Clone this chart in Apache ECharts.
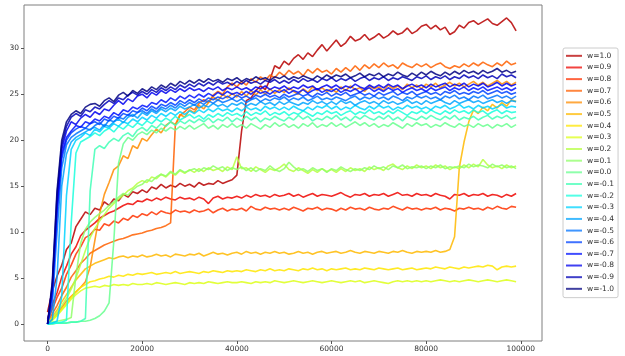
<!DOCTYPE html>
<html>
<head>
<meta charset="utf-8">
<script src="https://cdn.jsdelivr.net/npm/echarts@6/dist/echarts.min.js"></script>
<style>
  html, body { margin: 0; padding: 0; background: #fff; }
  #chart { width: 625px; height: 356px; }
</style>
</head>
<body>
<div id="chart"></div>
<script>
// one sample every 1000 steps, 0 .. 99000
const STEP = 1000;

const xTicks = [0, 20000, 40000, 60000, 80000, 100000];
const yTicks = [0, 5, 10, 15, 20, 25, 30];

const wP10 = [
  1.3, 3.6, 5.2, 6.4, 8.1, 8.8, 10.6, 11.4, 12.2, 11.9,
  12.6, 12.4, 13.3, 12.9, 13.6, 13.4, 14.1, 13.8, 14.4, 14.2,
  14.6, 14.3, 14.9, 14.7, 15.2, 14.8, 15.1, 14.9, 15.3, 15.0,
  15.2, 14.9, 15.4, 15.1, 15.3, 15.2, 15.6, 15.3, 15.5, 15.7,
  16.2, 21.0, 24.3, 24.6, 25.4, 25.9, 25.5, 26.6, 28.1, 27.8,
  28.6, 28.2, 28.9, 29.3, 28.8, 29.5, 29.1, 29.8, 30.4, 29.7,
  30.3, 30.9, 30.2, 30.6, 31.3, 30.8, 31.0, 31.5, 30.9, 31.2,
  31.6, 31.1, 31.4, 31.9, 31.5, 31.7, 32.2, 31.6, 31.9, 32.4,
  32.6, 32.1, 32.5, 32.0, 32.3, 31.5, 31.8, 32.5, 32.2, 32.8,
  33.0, 32.6, 32.9, 33.2, 32.7, 32.5, 32.9, 33.3, 32.8, 31.9
];
const wP09 = [
  0.6, 2.1, 3.4, 5.1, 6.3, 7.6, 8.4, 9.6, 10.2, 10.6,
  11.0, 11.5, 11.8, 12.1, 12.3, 12.6, 12.9, 13.1, 13.0, 13.4,
  13.3, 13.6, 13.4, 13.7, 13.5, 13.8, 13.6, 13.5, 13.8, 13.6,
  13.7, 13.5, 13.8, 13.6, 13.1, 13.7, 13.9, 13.6, 13.8, 13.7,
  13.9, 13.7, 14.0, 13.8, 14.1, 13.9, 14.0, 13.8, 14.1, 13.9,
  14.0, 14.2, 13.9, 14.1, 13.8, 14.0, 14.2, 13.9, 14.1, 14.0,
  13.9, 14.1, 14.3, 14.0, 13.8, 14.1, 14.0, 14.2, 13.9, 14.1,
  14.0, 14.2, 13.9, 14.1, 14.3, 14.0, 14.1, 13.9, 14.2, 14.0,
  14.1, 13.9, 14.2, 14.0, 13.9, 13.6, 14.1, 14.0, 14.2, 13.9,
  14.1, 14.0, 14.2, 13.9, 14.1, 14.0, 13.8, 14.1, 13.9, 14.2
];
const wP08 = [
  0.3, 1.6, 2.9, 3.9, 5.4, 6.4, 7.6, 8.4, 9.4, 9.7,
  10.3, 10.2, 10.9, 10.7, 11.2, 11.0, 11.5, 11.3, 11.8, 11.6,
  12.0, 11.8, 12.2, 11.9, 12.3, 12.1, 12.0, 12.4, 12.2, 12.3,
  12.1, 12.4, 12.2, 12.3, 12.5, 12.1, 12.4, 12.6, 12.3, 12.5,
  12.4, 12.6, 12.3, 12.8, 12.5, 12.4, 12.7, 12.5, 12.6, 12.4,
  12.6, 12.4, 12.7, 12.5, 12.3, 12.6, 12.5, 12.7, 12.4, 12.6,
  12.5, 12.3, 12.6, 12.4, 12.7, 12.5, 12.6, 12.4, 12.7, 12.5,
  12.4, 12.6, 12.5, 12.8, 12.6, 12.4, 12.7, 12.5, 12.6, 12.4,
  12.6, 12.5, 12.7, 12.4, 12.6, 12.5, 12.3, 12.6, 12.5, 12.7,
  12.5, 12.6, 12.4, 12.7, 12.5, 12.8, 12.6, 12.5, 12.8, 12.7
];
const wP07 = [
  0.2, 1.1, 2.0, 3.1, 4.0, 5.1, 5.8, 6.6, 7.1, 7.7,
  8.0, 8.3, 8.6, 8.8, 9.0, 9.2, 9.3, 9.5, 9.7, 9.8,
  9.9, 10.1, 10.2, 10.4, 10.5, 10.7, 11.0, 21.6, 22.7, 23.1,
  23.6, 23.3, 24.0, 24.4, 24.1, 24.9, 25.3, 25.0, 25.8, 26.2,
  25.8, 26.4, 26.0, 26.7, 26.3, 26.9, 26.5, 27.1, 26.8, 27.4,
  27.0, 27.6, 27.2, 27.5, 27.0, 27.7, 27.3, 27.8, 27.4, 27.6,
  27.2, 27.8, 27.4, 27.9, 27.5, 28.1, 27.6, 28.2, 27.8, 28.3,
  27.9, 28.4, 28.0, 28.2, 27.8, 28.4, 28.1, 27.9, 28.3, 28.0,
  28.3, 27.9, 28.2, 28.4, 28.0, 27.8, 28.1, 27.9, 28.3, 28.0,
  28.4, 28.1, 28.5, 28.2, 28.0, 28.4, 28.1, 28.6, 28.2, 28.4
];
const wP06 = [
  0.1, 0.5, 1.1, 1.8, 2.5, 3.0, 3.5, 4.0, 4.6, 6.2,
  9.1, 12.0, 14.1, 15.4, 16.8, 17.2, 18.3, 18.0, 19.4, 19.1,
  20.2, 19.9, 20.6, 21.2, 20.8, 21.6, 22.0, 21.7, 22.8, 22.5,
  23.3, 23.0, 23.8, 23.4, 24.1, 24.7, 24.3, 25.0, 24.6, 25.1,
  24.7, 25.3, 24.8, 25.4, 24.9, 25.5, 25.0, 25.6, 25.1, 25.5,
  25.2, 25.7, 25.3, 25.0, 25.6, 25.2, 25.8, 25.4, 25.7, 25.3,
  25.6, 25.2, 25.8, 25.4, 25.9, 25.5, 25.7, 25.3, 25.9, 25.6,
  25.8, 25.4, 26.0, 25.6, 25.9, 25.5, 26.1, 25.7, 26.0, 25.6,
  26.1, 25.8, 26.2, 25.7, 26.0, 26.3, 25.9, 26.2, 25.8, 26.1,
  26.4, 26.0, 26.3, 25.9, 26.2, 26.5, 26.1, 26.4, 26.0, 26.3
];
const wP05 = [
  0.1, 0.8, 1.5, 2.4, 3.2, 4.0, 4.8, 5.4, 6.0, 6.3,
  6.6, 6.8, 7.0, 7.2, 7.1, 7.3, 7.4, 7.2, 7.4, 7.3,
  7.5, 7.3, 7.4, 7.6, 7.4, 7.5, 7.3, 7.6, 7.5, 7.4,
  7.6, 7.5, 7.7, 7.4, 7.6, 7.8, 7.6, 7.7, 7.5, 7.7,
  7.8, 7.6, 7.9, 7.7, 7.8, 7.6, 7.8, 7.7, 7.9, 7.7,
  7.8, 7.6, 7.7, 7.9, 7.7, 7.8, 7.6, 7.8, 7.9, 7.7,
  7.8, 7.9, 7.7, 7.8, 8.0, 7.8, 7.7, 7.9, 7.8, 7.7,
  7.9, 7.8, 7.7, 7.9, 7.8, 8.0, 7.8, 7.7, 7.9, 7.8,
  7.9, 7.8, 8.0, 7.8, 7.9, 8.1, 9.5, 17.0, 19.8, 22.0,
  23.3, 22.9, 23.6, 23.2, 23.9, 23.5, 24.1, 23.7, 24.4, 24.2
];
const wP04 = [
  0.1, 0.5, 1.0, 1.6, 2.2, 2.9, 3.5, 4.0, 4.3, 4.6,
  4.7, 4.9, 5.0, 5.2, 5.1, 5.3, 5.2, 5.4, 5.3, 5.5,
  5.4, 5.5, 5.6, 5.4, 5.5, 5.6, 5.5, 5.7, 5.5, 5.6,
  5.7, 5.6, 5.5, 5.7, 5.6, 5.8, 5.7, 5.6, 5.8, 5.7,
  5.8, 5.7, 5.9, 5.8, 5.7, 5.9, 5.8, 6.0, 5.8, 5.9,
  5.8, 6.0, 5.9, 5.8, 6.0, 5.9, 6.1, 5.9, 6.0, 5.8,
  6.0, 5.9, 6.0, 6.1, 5.9, 6.0, 5.9, 6.1, 6.0, 5.9,
  6.1, 6.0, 5.9, 6.0, 6.1, 5.9, 6.0, 6.1, 5.9, 6.0,
  6.1, 6.0, 6.2, 6.1, 6.0, 6.2, 6.1, 6.0, 6.2, 6.1,
  6.2, 6.3, 6.2, 6.4, 6.3, 5.9, 6.2, 6.3, 6.2, 6.3
];
const wP03 = [
  0.1, 0.4, 0.9, 1.5, 2.1, 2.7, 3.2, 3.6, 3.9, 4.0,
  4.1, 4.0, 4.2, 4.1, 4.3, 4.2, 4.3, 4.2, 4.4, 4.3,
  4.3, 4.4, 4.3, 4.5, 4.4, 4.3, 4.4, 4.5, 4.4, 4.3,
  4.5, 4.4, 4.5, 4.4, 4.6, 4.5, 4.4, 4.5, 4.6, 4.5,
  4.5, 4.6, 4.5, 4.4, 4.6, 4.5, 4.6, 4.5, 4.7, 4.6,
  4.5, 4.6, 4.7, 4.6, 4.5, 4.6, 4.7, 4.6, 4.5, 4.6,
  4.7, 4.6, 4.5, 4.6, 4.7, 4.6, 4.7, 4.5, 4.6, 4.7,
  4.6, 4.5, 4.4, 4.6, 4.7, 4.6, 4.7, 4.6, 4.7, 4.6,
  4.7, 4.6, 4.7, 4.8, 4.7, 4.6, 4.7, 4.6, 4.7, 4.8,
  4.7, 4.6, 4.7, 4.8, 4.7, 4.6, 4.7, 4.8, 4.7, 4.6
];
const wP02 = [
  0.1, 0.6, 1.3, 2.0, 2.8, 3.8, 5.0, 6.5, 8.0, 9.4,
  10.4, 11.2, 11.9, 12.6, 13.1, 13.6, 14.0, 14.5, 14.8, 15.3,
  15.6, 15.4, 16.0, 15.8, 16.3, 16.0, 16.5, 16.2, 16.7, 16.4,
  16.8, 16.5, 16.9, 16.6, 17.0, 16.7, 16.9, 16.6, 17.1, 16.8,
  18.2, 16.9, 17.0, 16.6, 17.1, 16.8, 16.5, 16.9, 16.7, 17.0,
  17.4, 16.8, 16.6, 17.0, 16.7, 16.4, 16.8, 16.5, 16.9, 16.6,
  16.8, 16.5, 16.9, 16.6, 17.0, 16.7, 16.9, 16.6, 17.1, 16.8,
  17.0, 16.7, 17.2, 17.4, 17.0, 16.8, 17.2, 16.9, 17.3, 17.0,
  17.2, 16.9, 17.3, 17.0, 17.2, 16.8, 17.1, 16.9, 17.3, 17.0,
  17.4, 17.1, 17.9, 17.3, 17.0, 17.2, 16.9, 17.3, 17.0, 17.2
];
const wP01 = [
  0.1, 0.2, 0.3, 0.4, 0.5, 0.7, 5.2, 8.8, 10.3, 11.1,
  11.6, 12.0, 12.4, 12.9, 13.3, 13.8, 14.2, 14.0, 14.6, 15.0,
  15.2, 15.7, 15.5, 16.0, 16.3, 16.1, 16.6, 16.3, 16.8, 16.5,
  16.7, 16.9, 16.6, 17.0, 16.8, 17.2, 16.9, 17.1, 16.7, 17.0,
  16.8, 17.1, 16.7, 17.0, 16.6, 16.9, 16.7, 17.2, 16.8, 16.6,
  16.9, 17.6, 17.1, 16.7, 16.9, 16.6, 17.0, 16.7, 16.9, 16.5,
  16.9, 16.7, 17.1, 16.8, 16.6, 16.9, 16.7, 17.0, 16.8, 17.2,
  16.9, 17.1, 16.8, 17.2, 17.0, 17.3, 16.9, 17.1, 17.0, 17.2,
  16.9, 17.2, 17.0, 17.3, 16.9, 17.1, 17.0, 17.2, 17.0, 17.4,
  17.1, 17.3, 17.2, 17.0, 17.4, 17.1, 17.3, 17.0, 17.2, 16.9
];
const wP00 = [
  0.0, 0.0, 0.1, 0.1, 0.1, 0.2, 0.2, 0.3, 0.3, 0.4,
  0.6, 0.9, 1.4, 2.3, 9.0, 17.5, 19.6, 20.3, 20.0, 20.6,
  20.9, 20.6, 21.1, 20.8, 21.3, 21.0, 21.4, 21.1, 21.5, 21.2,
  21.6, 21.2, 21.5, 21.8, 21.3, 21.6, 21.2, 21.7, 21.4, 21.8,
  21.4, 21.7, 21.3, 21.8, 21.5, 21.2, 21.7, 21.4, 21.9, 21.5,
  21.8, 21.4, 21.7, 21.3, 21.8, 21.5, 21.9, 21.4, 21.7, 21.5,
  21.9, 21.5, 21.8, 21.4, 21.7, 22.0, 21.6, 21.9, 21.5, 21.8,
  21.4, 21.7, 21.5, 21.9, 21.6, 21.3, 21.8, 21.5, 21.9, 21.6,
  21.8, 21.4, 21.7, 21.5, 21.9, 21.6, 21.4, 21.8, 21.5, 21.7,
  21.4, 21.8, 21.5, 21.7, 21.3, 21.7, 21.5, 21.8, 21.4, 21.7
];
const wM01 = [
  0.0, 0.0, 0.1, 0.1, 0.1, 0.2, 0.2, 0.3, 0.6, 14.5,
  19.0, 19.4, 19.1, 19.8, 20.2, 19.9, 20.5, 20.8, 20.4, 21.1,
  21.4, 21.0, 21.6, 21.3, 21.8, 21.5, 22.0, 21.6, 22.1, 21.8,
  22.2, 21.9, 22.3, 22.0, 22.4, 21.9, 22.3, 22.1, 22.5, 22.0,
  22.4, 22.1, 22.6, 22.2, 22.5, 22.0, 22.4, 22.2, 22.6, 22.3,
  22.1, 22.5, 22.2, 22.7, 22.3, 22.6, 22.1, 22.4, 22.2, 22.6,
  22.3, 22.7, 22.2, 22.5, 22.1, 22.6, 22.3, 22.7, 22.4, 22.2,
  22.6, 22.3, 22.7, 22.2, 22.5, 22.1, 22.6, 22.4, 22.2, 22.6,
  22.3, 22.7, 22.4, 22.2, 22.6, 22.3, 22.7, 22.2, 22.5, 22.3,
  22.6, 22.2, 22.5, 22.7, 22.3, 22.6, 22.4, 22.7, 22.3, 22.5
];
const wM02 = [
  0.0, 0.1, 0.1, 0.2, 0.4, 11.0, 18.6, 19.8, 20.1, 20.4,
  20.8, 20.5, 21.0, 21.3, 20.9, 21.5, 21.2, 21.7, 21.4, 21.9,
  21.6, 22.1, 21.8, 22.3, 22.0, 22.4, 22.1, 22.6, 22.2, 22.5,
  22.8, 22.4, 22.7, 22.3, 22.8, 22.5, 22.9, 22.6, 23.0, 22.7,
  22.9, 22.6, 23.1, 22.7, 23.0, 22.8, 23.2, 22.7, 23.0, 22.8,
  23.1, 22.7, 23.0, 22.8, 23.2, 22.9, 22.6, 23.0, 22.8, 23.2,
  22.9, 23.1, 22.7, 23.0, 23.2, 22.8, 23.1, 22.9, 23.3, 22.9,
  23.1, 22.8, 23.2, 22.9, 23.3, 23.0, 22.7, 23.1, 22.9, 23.2,
  22.9, 23.3, 23.0, 22.8, 23.2, 22.9, 23.3, 23.0, 23.2, 22.9,
  23.3, 23.0, 23.2, 22.8, 23.1, 23.3, 22.9, 23.2, 23.0, 23.1
];
const wM03 = [
  0.0, 0.1, 0.3, 3.0, 14.0, 19.0, 20.0, 20.3, 20.8, 20.5,
  21.2, 20.9, 21.5, 21.3, 21.8, 21.5, 22.0, 21.8, 22.3, 22.0,
  22.5, 22.2, 22.7, 22.4, 22.9, 22.6, 23.0, 22.7, 23.1, 22.8,
  23.2, 22.9, 23.3, 23.0, 23.4, 23.1, 23.5, 23.2, 23.4, 23.1,
  23.5, 23.2, 23.6, 23.3, 23.5, 23.2, 23.7, 23.4, 23.6, 23.3,
  23.6, 23.3, 23.7, 23.4, 23.2, 23.6, 23.3, 23.7, 23.5, 23.8,
  23.4, 23.7, 23.3, 23.6, 23.4, 23.8, 23.5, 23.3, 23.7, 23.4,
  23.8, 23.5, 23.7, 23.3, 23.6, 23.4, 23.8, 23.5, 23.7, 23.4,
  23.6, 23.3, 23.7, 23.5, 23.8, 23.4, 23.6, 23.9, 23.5, 23.7,
  23.4, 23.8, 23.5, 23.7, 23.4, 23.6, 23.9, 23.5, 23.7, 23.6
];
const wM04 = [
  0.0, 0.5, 5.0, 15.0, 18.5, 19.8, 20.3, 20.6, 20.9, 21.2,
  21.4, 21.1, 21.7, 21.5, 22.0, 22.3, 21.9, 22.5, 22.8, 22.4,
  23.0, 22.7, 23.2, 22.9, 23.4, 23.1, 23.5, 23.2, 23.7, 23.4,
  23.6, 23.9, 23.5, 23.8, 23.6, 24.0, 23.7, 23.9, 23.6, 24.0,
  23.8, 24.1, 23.7, 24.0, 23.8, 24.2, 23.9, 24.1, 23.8, 24.2,
  23.9, 24.2, 24.0, 23.8, 24.1, 23.9, 24.3, 24.0, 24.2, 23.9,
  24.2, 23.9, 24.3, 24.0, 24.2, 23.8, 24.1, 24.3, 24.0, 24.2,
  23.9, 24.3, 24.0, 24.2, 23.9, 24.1, 24.4, 24.0, 24.2, 23.9,
  24.3, 24.0, 24.2, 24.4, 24.1, 23.9, 24.3, 24.0, 24.2, 24.4,
  24.1, 24.3, 24.0, 24.2, 24.4, 24.1, 24.3, 24.0, 24.3, 24.2
];
const wM05 = [
  0.0, 2.0, 10.0, 17.0, 19.5, 20.3, 20.7, 21.0, 21.3, 21.1,
  21.6, 21.9, 21.5, 22.2, 22.0, 22.5, 22.3, 22.8, 22.6, 23.0,
  23.2, 22.9, 23.4, 23.1, 23.6, 23.4, 23.8, 23.5, 24.0, 23.7,
  24.1, 23.8, 24.2, 23.9, 24.3, 24.0, 24.4, 24.1, 24.3, 24.5,
  24.2, 24.5, 24.1, 24.4, 24.6, 24.2, 24.5, 24.3, 24.6, 24.4,
  24.7, 24.3, 24.6, 24.4, 24.7, 24.3, 24.5, 24.8, 24.4, 24.6,
  24.4, 24.7, 24.5, 24.3, 24.6, 24.8, 24.4, 24.7, 24.5, 24.8,
  24.5, 24.7, 24.4, 24.8, 24.6, 24.3, 24.7, 24.5, 24.8, 24.6,
  24.8, 24.5, 24.7, 24.4, 24.8, 24.6, 24.9, 24.5, 24.7, 24.4,
  24.8, 24.6, 24.9, 24.5, 24.7, 24.9, 24.6, 24.8, 24.5, 24.8
];
const wM06 = [
  0.0, 3.0, 12.0, 18.0, 20.0, 20.8, 21.2, 21.5, 21.3, 21.8,
  22.0, 21.7, 22.3, 22.1, 22.6, 22.4, 22.9, 22.7, 23.2, 23.0,
  23.5, 23.2, 23.7, 23.4, 23.9, 23.7, 24.1, 23.8, 24.3, 24.0,
  24.4, 24.1, 24.5, 24.2, 24.6, 24.4, 24.7, 24.5, 24.8, 24.5,
  24.9, 24.6, 24.8, 24.5, 24.9, 24.7, 25.0, 24.7, 24.9, 24.6,
  25.0, 24.7, 24.9, 25.1, 24.8, 25.0, 24.7, 25.1, 24.9, 25.2,
  24.8, 25.1, 24.9, 25.2, 24.8, 25.0, 25.2, 24.9, 25.1, 24.8,
  25.2, 24.9, 25.1, 25.3, 24.9, 25.2, 25.0, 25.3, 24.9, 25.1,
  25.3, 25.0, 25.2, 24.9, 25.3, 25.1, 25.4, 25.0, 25.2, 25.0,
  25.3, 25.1, 25.4, 25.0, 25.2, 25.4, 25.1, 25.3, 25.0, 25.2
];
const wM07 = [
  0.0, 3.5, 12.5, 18.5, 20.3, 21.0, 21.6, 21.4, 22.0, 21.8,
  22.3, 22.1, 22.6, 22.4, 23.0, 22.7, 23.3, 23.1, 23.6, 23.4,
  23.8, 23.6, 24.1, 23.9, 24.4, 24.1, 24.6, 24.3, 24.8, 24.5,
  24.9, 24.6, 25.0, 24.7, 25.1, 24.8, 25.2, 24.9, 25.3, 25.0,
  25.2, 24.9, 25.3, 25.0, 25.4, 25.1, 25.3, 25.0, 25.4, 25.2,
  25.5, 25.1, 25.4, 25.2, 25.5, 25.1, 25.4, 25.6, 25.2, 25.5,
  25.3, 25.6, 25.2, 25.5, 25.3, 25.6, 25.2, 25.5, 25.7, 25.3,
  25.6, 25.3, 25.7, 25.4, 25.6, 25.2, 25.5, 25.7, 25.4, 25.6,
  25.3, 25.7, 25.4, 25.6, 25.8, 25.4, 25.7, 25.5, 25.8, 25.4,
  25.7, 25.5, 25.8, 25.4, 25.6, 25.8, 25.5, 25.7, 25.4, 25.7
];
const wM08 = [
  0.0, 4.0, 13.0, 19.0, 21.0, 22.0, 21.7, 22.4, 22.8, 22.5,
  23.1, 22.8, 23.4, 23.2, 23.8, 24.3, 23.9, 24.5, 24.2, 24.8,
  25.0, 24.6, 25.2, 24.9, 25.4, 25.1, 25.5, 25.2, 25.6, 25.3,
  25.7, 25.4, 25.6, 25.3, 25.7, 25.5, 25.8, 25.4, 25.7, 25.5,
  25.8, 25.5, 25.7, 25.4, 25.8, 25.6, 25.9, 25.5, 25.8, 25.6,
  25.9, 25.5, 25.8, 25.6, 26.0, 25.7, 25.9, 25.5, 25.8, 26.0,
  25.7, 26.0, 25.6, 25.9, 25.7, 26.1, 25.8, 25.6, 26.0, 25.7,
  26.0, 25.7, 26.1, 25.8, 26.0, 25.6, 25.9, 26.1, 25.8, 26.0,
  25.7, 26.1, 25.8, 26.0, 26.2, 25.8, 26.1, 25.9, 26.2, 25.8,
  26.1, 25.9, 26.2, 25.8, 26.0, 26.3, 25.9, 26.2, 25.9, 26.1
];
const wM09 = [
  0.0, 4.2, 14.0, 19.5, 21.5, 22.5, 22.9, 22.6, 23.3, 23.1,
  23.6, 23.4, 23.9, 24.3, 24.0, 24.6, 24.4, 24.9, 25.2, 24.9,
  25.3, 25.0, 25.5, 25.2, 25.7, 25.4, 25.8, 25.5, 26.0, 25.7,
  26.1, 25.8, 26.2, 25.9, 26.3, 26.0, 26.4, 26.1, 26.3, 26.0,
  26.4, 26.1, 26.5, 26.2, 26.4, 26.1, 26.5, 26.3, 26.6, 26.2,
  26.5, 26.2, 26.6, 26.3, 26.7, 26.4, 26.6, 26.3, 26.7, 26.5,
  26.8, 26.4, 26.7, 26.5, 26.8, 26.4, 26.7, 26.9, 26.5, 26.8,
  26.6, 26.9, 26.5, 26.8, 26.6, 26.9, 26.7, 26.5, 26.9, 26.7,
  27.0, 26.6, 26.9, 26.7, 27.0, 26.6, 26.9, 26.7, 27.1, 26.8,
  27.0, 26.7, 27.1, 26.8, 27.0, 26.7, 27.2, 26.9, 27.1, 26.8
];
const wM10 = [
  0.0, 4.6, 14.5, 20.0, 22.0, 22.8, 23.2, 22.9, 23.6, 23.9,
  24.0, 23.7, 24.3, 24.6, 24.2, 24.9, 25.2, 24.8, 25.4, 25.1,
  25.6, 25.3, 25.8, 25.5, 26.0, 25.7, 26.2, 25.9, 26.4, 26.1,
  26.5, 26.2, 26.6, 26.3, 26.7, 26.4, 26.6, 26.3, 26.7, 26.5,
  26.8, 26.4, 26.7, 26.5, 26.9, 26.6, 26.8, 26.5, 26.9, 26.7,
  27.0, 26.6, 26.9, 26.7, 27.0, 26.8, 26.6, 27.0, 26.7, 27.1,
  26.8, 27.1, 26.9, 27.2, 26.8, 27.0, 27.3, 26.9, 27.2, 27.0,
  27.3, 26.9, 27.2, 27.0, 27.4, 27.1, 26.9, 27.3, 27.0, 27.4,
  27.1, 27.5, 27.2, 27.0, 27.4, 27.1, 27.5, 27.2, 27.6, 27.3,
  27.5, 27.2, 27.6, 27.3, 27.5, 27.8, 27.4, 27.6, 27.3, 27.5
];

const weights = [1.0, 0.9, 0.8, 0.7, 0.6, 0.5, 0.4, 0.3, 0.2, 0.1, 0.0,
                 -0.1, -0.2, -0.3, -0.4, -0.5, -0.6, -0.7, -0.8, -0.9, -1.0];
const runs = [wP10, wP09, wP08, wP07, wP06, wP05, wP04, wP03, wP02, wP01, wP00,
              wM01, wM02, wM03, wM04, wM05, wM06, wM07, wM08, wM09, wM10];

// matplotlib "jet" colormap
function jet(t) {
  const clamp = v => Math.max(0, Math.min(1, v));
  let r, g, b;
  if (t < 0.35) r = 0; else if (t < 0.66) r = (t - 0.35) / 0.31; else if (t < 0.89) r = 1; else r = 1 - 0.5 * (t - 0.89) / 0.11;
  if (t < 0.125) g = 0; else if (t < 0.375) g = (t - 0.125) / 0.25; else if (t < 0.64) g = 1; else if (t < 0.91) g = 1 - (t - 0.64) / 0.27; else g = 0;
  if (t < 0.11) b = 0.5 + 0.5 * t / 0.11; else if (t < 0.34) b = 1; else if (t < 0.65) b = 1 - (t - 0.34) / 0.31; else b = 0;
  return `rgb(${Math.round(clamp(r) * 255)},${Math.round(clamp(g) * 255)},${Math.round(clamp(b) * 255)})`;
}

const fontFamily = "DejaVu Sans";

// colours look like jet sampled at i/21 (last one never reaches pure dark red)
const series = runs.map((vals, k) => ({
  name: "w=" + weights[k].toFixed(1),
  type: "line",
  showSymbol: false,
  symbol: "none",
  color: jet((weights[k] + 1) / 2 * 20 / 21),
  lineStyle: { width: 1.6, opacity: 0.85 },
  data: vals.map((v, i) => [i * STEP, v]),
}));

const chart = echarts.init(document.getElementById("chart"), null, { renderer: "canvas" });
chart.setOption({
  animation: false,
  backgroundColor: "#fff",
  grid: {
    left: 24, top: 5, right: 83, bottom: 15,
    show: true, borderColor: "#7f7f7f", borderWidth: 1, backgroundColor: "transparent",
  },
  xAxis: {
    type: "value",
    min: -4975,
    max: 104475,
    axisLine: { show: false, onZero: false },
    axisTick: { show: true, length: 3, lineStyle: { color: "#555" }, customValues: xTicks },
    axisLabel: { color: "#333", fontSize: 7.5, fontFamily, margin: 4, customValues: xTicks, formatter: v => String(v) },
    splitLine: { show: false },
  },
  yAxis: {
    type: "value",
    min: -1.85,
    max: 34.71,
    axisLine: { show: false, onZero: false },
    axisTick: { show: true, length: 3, lineStyle: { color: "#555" }, customValues: yTicks },
    axisLabel: { color: "#333", fontSize: 7.5, fontFamily, margin: 5, customValues: yTicks, formatter: v => String(v) },
    splitLine: { show: false },
  },
  legend: {
    orient: "vertical",
    left: 563,
    top: 48,
    padding: [2, 4, 3, 3],
    itemGap: 0,
    itemWidth: 16,
    itemHeight: 2,
    icon: "rect",
    borderColor: "#cccccc",
    borderWidth: 1,
    borderRadius: 2,
    itemStyle: { opacity: 0.75 },
    textStyle: { color: "#333", fontSize: 7.5, fontFamily, lineHeight: 11.65, padding: 0 },
    data: series.map(s => s.name),
  },
  series,
});
</script>
</body>
</html>
